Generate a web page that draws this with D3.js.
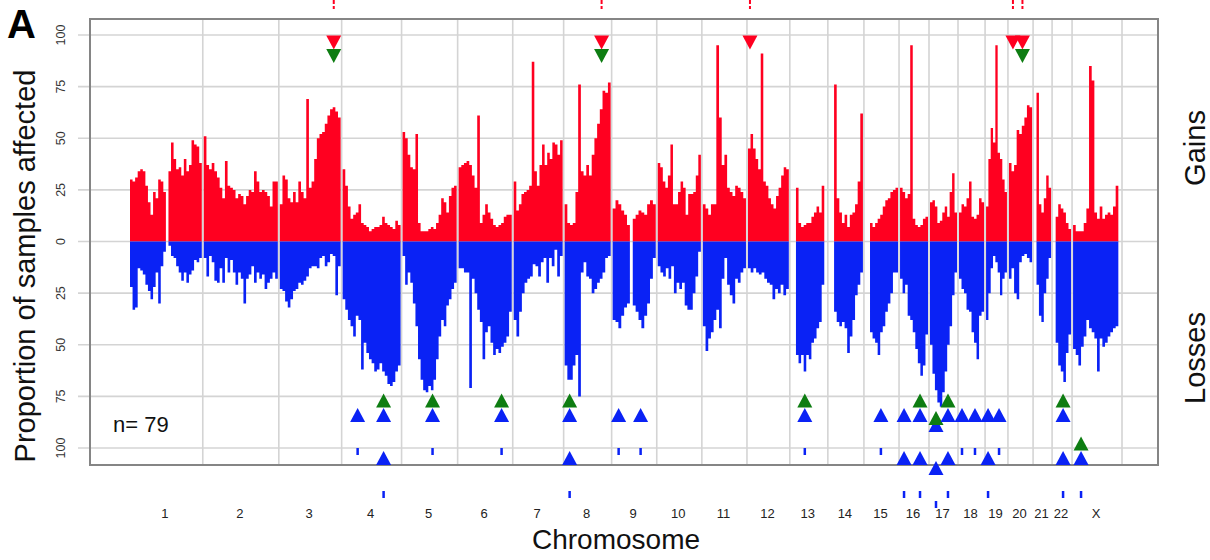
<!DOCTYPE html>
<html>
<head>
<meta charset="utf-8">
<script src="https://cdn.jsdelivr.net/npm/d3@7"></script>
<style>
  body { margin: 0; background: #fff; }
  svg { display: block; font-family: "Liberation Sans", Arial, sans-serif; }
</style>
</head>
<body>
<svg id="chart" width="1210" height="560"></svg>
<script>
// Chromosomes and their lengths (Mb) along the genome axis
const chromNames = ["1","2","3","4","5","6","7","8","9","10","11","12","13","14","15","16","17","18","19","20","21","22","X"];
const chromSizes = [229, 236, 195, 186, 174, 171, 158, 149, 140, 140, 140, 133, 118, 112, 109, 93, 90, 84, 71, 78, 59, 62, 155];

// Percentage of samples with a gain, binned evenly along each chromosome (null = no probes)
const gainPct = [
  [30, 29, 31, 34, 35, 34, 27, 19, 13, 24, 21, 30, 29, 24, null, 34, 48, 40, 35, 36, 32, 40, 34, 37, 49, 47, 46, 38],
  [51, 37, 35, 38, 34, 31, 26, 21, 39, 27, 26, 25, 21, 23, 22, 18, 22, 25, 24, 34, 29, 24, 25, 24, 22, 17, 29, 29],
  [18, 32, 30, 21, 19, 24, 19, 29, 24, 21, 69, 26, 29, 40, 50, 52, 53, 57, 61, 64, 65, 63, 60],
  [35, 27, 17, 11, 13, 14, 18, 9, 8, 7, 5, 6, 7, 7, 8, 12, 9, 8, 7, 6, 10, 8],
  [53, 50, 42, 36, 35, 52, 9, 5, 5, 5, 6, 7, 6, 9, 13, 21, 19, 14, 22, 26, 27],
  [36, 37, 38, 39, 37, 32, 26, 61, 9, 13, 18, 14, 11, 8, 7, 8, 9, 12, 13, 13],
  [29, 15, 18, 23, 24, 25, 27, 87, 34, 27, 37, 47, 37, 43, 40, 48, 47, 42, 49],
  [18, 9, 8, 9, 24, 76, 34, 32, 37, 32, 42, 50, 57, 64, 73, 72, 77],
  [16, 20, 18, 15, 13, 8, null, 11, 13, 15, 14, 13, 18, 20, 18],
  [38, 36, 29, 26, 32, 47, 18, 18, 24, 29, 26, 13, 23, 23, 24, 32, 42],
  [18, 16, 13, 18, 18, 95, 60, 37, 42, 26, 24, 22, 27, 26, 24, 21],
  [45, 52, 45, 40, 35, 91, 29, 27, 21, 18, 16, 22, 26, 32, 36, 35],
  [null, null, 26, 9, 7, 8, 9, 9, 12, 14, 17, 14, 27, null],
  [null, null, 76, 21, 14, 9, 13, 7, 13, 14, 18, 29, 62],
  [null, null, 9, 7, 9, 11, 13, 17, 20, 21, 24, 25, 26],
  [26, 24, 21, 23, 95, 11, 8, 7, 8, 11, 12],
  [19, 20, 17, 9, 10, 14, 17, 12, 24, 33, 14],
  [14, 18, 17, 21, 29, 12, 11, 13, 21, 19],
  [17, 40, 55, 48, 95, 43, 40, 30, 24],
  [38, 34, 37, 54, 52, 56, 60, 66, 65],
  [null, 72, 18, 14, 21, 32, 26],
  [null, 12, 18, 16, 14, 9, 6],
  [8, 5, 5, 5, 9, 16, 85, 78, 14, 11, 17, 11, 13, 14, 13, 17, 27, null]
];

// Percentage of samples with a loss, same binning scheme
const lossPct = [
  [22, 33, 32, 13, 14, 16, 21, 24, 28, 22, 15, 30, 12, 5, null, 2, 7, 8, 12, 15, 19, 15, 20, 16, 14, 9, 10, 8],
  [8, 17, 7, 10, 19, 20, 13, 20, 8, 15, 9, 15, 21, 15, 18, 30, 18, 16, 12, 20, 15, 18, 16, 23, 20, 18, 15, 18],
  [23, 24, 29, 32, 28, 24, 23, 20, 21, 19, 17, 13, 12, 12, 13, 8, 7, 12, 10, 6, 7, 26, 12],
  [28, 33, 38, 41, 46, 36, 38, 62, 49, 54, 57, 59, 63, 62, 59, 63, 65, 69, 70, 68, 63, 60],
  [7, 21, 15, 20, 30, 41, 57, 67, 72, 73, 70, 72, 67, 57, 46, 38, 41, 31, 28, 23, 20],
  [13, 13, 15, 15, 71, 18, 25, 33, 39, 57, 44, 41, 49, 55, 52, 54, 51, 49, 46, 34],
  [38, 46, 34, 25, 20, 18, 17, 11, 12, 17, 10, 8, 20, 8, 12, 4, 17, 7],
  [60, 67, 67, 60, 55, 75, 15, 10, 17, 18, 25, 23, 20, 18, 15, 8, 7],
  [38, 39, 42, 36, 32, 30, null, 31, 34, 38, 42, 36, 30, 18, 8],
  [12, 15, 17, 13, 18, 12, 25, 20, 23, 20, 31, 33, 33, 25, 17, 5],
  [41, 53, 47, 44, 38, 33, 42, 18, 8, 21, 26, 30, 18, 20, 15, 13],
  [13, 15, 13, 15, 16, 15, 18, 20, 21, 28, 23, 25, 21, 26, 23],
  [null, null, 55, 59, 55, 63, 55, 57, 49, 47, 42, 39, 21, null],
  [null, null, 34, 39, 41, 39, 42, 54, 46, 38, 26, 21, 15],
  [null, null, 44, 47, 49, 55, 44, 41, 34, 30, 25, 15, 15],
  [18, 25, 21, 36, 38, 44, 52, 59, 65, 60, 45],
  [50, 64, 72, 78, 80, 73, 63, 50, 41, 26, 15],
  [18, 23, 25, 33, 34, 44, 49, 57, 36, 34],
  [38, 25, 13, 7, 10, 15, 26, 18, 15],
  [18, 13, 25, 28, 10, 7, 6, 8, 10],
  [null, 21, 36, 39, 25, 18, 8],
  [null, 49, 60, 63, 68, 54, 45],
  [52, 55, 60, 51, 46, 38, 42, 44, 47, 63, 47, 51, 49, 46, 44, 42, 41, null]
];

// Y axis ticks (gains positive, losses negative; labels show magnitude)
const yTicks = [-100, -75, -50, -25, 0, 25, 50, 75, 100];

// Recurrent gain regions (position in Mb within chromosome); green = second test also significant
const gainCalls = [
  { chrom: "3",  pos: 170.5, green: true },
  { chrom: "8",  pos: 117.8, green: true },
  { chrom: "12", pos: 9.3,   green: false },
  { chrom: "20", pos: 15.5,  green: false },
  { chrom: "20", pos: 45.0,  green: true }
];

// Recurrent loss regions; tiers = significance rows reached
const lossCalls = [
  { chrom: "4",  pos: 49.6,  tiers: [1],    green: false },
  { chrom: "4",  pos: 130.2, tiers: [1, 2], green: true },
  { chrom: "5",  pos: 96.1,  tiers: [1],    green: true },
  { chrom: "6",  pos: 136.4, tiers: [1],    green: true },
  { chrom: "8",  pos: 18.6,  tiers: [1, 2], green: true },
  { chrom: "9",  pos: 21.7,  tiers: [1],    green: false },
  { chrom: "9",  pos: 89.9,  tiers: [1],    green: false },
  { chrom: "13", pos: 46.5,  tiers: [1],    green: true },
  { chrom: "15", pos: 52.7,  tiers: [1],    green: false },
  { chrom: "16", pos: 15.5,  tiers: [1, 2], green: false },
  { chrom: "16", pos: 65.1,  tiers: [1, 2], green: true },
  { chrom: "17", pos: 21.7,  tiers: [1, 2], green: true, stagger: true },
  { chrom: "17", pos: 58.9,  tiers: [1, 2], green: true },
  { chrom: "18", pos: 12.4,  tiers: [1],    green: false },
  { chrom: "18", pos: 52.7,  tiers: [1],    green: false },
  { chrom: "19", pos: 9.3,   tiers: [1, 2], green: false },
  { chrom: "19", pos: 43.4,  tiers: [1],    green: false },
  { chrom: "22", pos: 34.1,  tiers: [1, 2], green: true },
  { chrom: "X",  pos: 27.9,  tiers: [2],    green: true }
];

const sampleCount = 79;

// ---- layout & scales ----
const RED = "#ff0020", BLUE = "#0a22f5", GREEN = "#0e7d12", GRID = "#d4d4d4";
const frame = { left: 90, top: 19, right: 1158, bottom: 465 };
const bounds = [0, ...d3.cumsum(chromSizes)];
const total = bounds[bounds.length - 1];
const chromIndex = new Map(chromNames.map((c, i) => [c, i]));
const gpos = (c, p) => bounds[chromIndex.get(c)] + p;

const x = d3.scaleLinear().domain([0, total]).range([129, 1122]);
const y = d3.scaleLinear().domain([-100, 100]).range([448, 35]);

const svg = d3.select("#chart");

// grid
const grid = svg.append("g").attr("stroke", GRID).attr("stroke-width", 1.6);
grid.selectAll("line.h").data(yTicks).join("line")
  .attr("x1", 78).attr("x2", frame.right)
  .attr("y1", d => y(d)).attr("y2", d => y(d));
grid.selectAll("line.v").data(bounds.slice(1)).join("line")
  .attr("x1", d => x(d)).attr("x2", d => x(d))
  .attr("y1", frame.top).attr("y2", frame.bottom);

// profiles, one path per chromosome so boundaries stay open
function profilePoints(vals, i) {
  const local = d3.scaleLinear().domain([0, vals.length])
    .range([x(bounds[i]) + 1, x(bounds[i + 1]) - 1]);
  const pts = [];
  vals.forEach((v, j) => {
    if (v == null) { pts.push({ px: local(j), v: null }); return; }
    pts.push({ px: local(j), v }, { px: local(j + 1), v });
  });
  return pts;
}
const areaUp = d3.area().defined(d => d.v != null)
  .x(d => d.px).y0(y(0)).y1(d => y(d.v));
const areaDown = d3.area().defined(d => d.v != null)
  .x(d => d.px).y0(y(0)).y1(d => y(-d.v));

svg.append("g").selectAll("path").data(gainPct).join("path")
  .attr("fill", RED).attr("d", (vals, i) => areaUp(profilePoints(vals, i)));
svg.append("g").selectAll("path").data(lossPct).join("path")
  .attr("fill", BLUE).attr("d", (vals, i) => areaDown(profilePoints(vals, i)));

// frame
svg.append("rect")
  .attr("x", frame.left).attr("y", frame.top)
  .attr("width", frame.right - frame.left).attr("height", frame.bottom - frame.top)
  .attr("fill", "none").attr("stroke", "#858585").attr("stroke-width", 2);

// y tick labels (rotated)
svg.append("g").selectAll("text").data(yTicks).join("text")
  .attr("transform", d => `translate(65,${y(d)}) rotate(-90)`)
  .attr("text-anchor", "middle").attr("font-size", 12.5).attr("fill", "#333")
  .text(d => Math.abs(d));

// chromosome labels
svg.append("g").selectAll("text").data(chromNames).join("text")
  .attr("x", (d, i) => x((bounds[i] + bounds[i + 1]) / 2) - 1)
  .attr("y", 518).attr("text-anchor", "middle")
  .attr("font-size", 13).attr("fill", "#222").text(d => d);

// titles
svg.append("text").attr("x", 616).attr("y", 549).attr("text-anchor", "middle")
  .attr("font-size", 28).attr("fill", "#111").text("Chromosome");
svg.append("text").attr("transform", "translate(35,266) rotate(-90)")
  .attr("text-anchor", "middle").attr("font-size", 29).attr("fill", "#111")
  .text("Proportion of samples affected");
svg.append("text").attr("transform", "translate(1205,148) rotate(-90)")
  .attr("text-anchor", "middle").attr("font-size", 29).attr("fill", "#111").text("Gains");
svg.append("text").attr("transform", "translate(1205,358) rotate(-90)")
  .attr("text-anchor", "middle").attr("font-size", 29).attr("fill", "#111").text("Losses");
svg.append("text").attr("x", 7).attr("y", 38).attr("font-size", 40)
  .attr("font-weight", "bold").attr("fill", "#000").text("A");
svg.append("text").attr("x", 113).attr("y", 432).attr("font-size", 22)
  .attr("fill", "#111").text("n= " + sampleCount);

// markers
const TW = 15, TH = 14;
const triDown = (cx, cy) => `M${cx - TW / 2},${cy - TH / 2}L${cx + TW / 2},${cy - TH / 2}L${cx},${cy + TH / 2}Z`;
const triUp = (cx, cy) => `M${cx - TW / 2},${cy + TH / 2}L${cx + TW / 2},${cy + TH / 2}L${cx},${cy - TH / 2}Z`;

const mk = svg.append("g");
gainCalls.forEach(d => {
  const cx = x(gpos(d.chrom, d.pos));
  mk.append("line").attr("x1", cx).attr("x2", cx).attr("y1", 0).attr("y2", 9)
    .attr("stroke", RED).attr("stroke-width", 2).attr("stroke-dasharray", "4,2");
  mk.append("path").attr("d", triDown(cx, 42.5)).attr("fill", RED);
});
gainCalls.filter(d => d.green).forEach(d => {
  const cx = x(gpos(d.chrom, d.pos));
  mk.append("path").attr("d", triDown(cx, 56)).attr("fill", GREEN);
});

const tierY = { 1: 415, 2: 458 };
lossCalls.forEach(d => {
  const cx = x(gpos(d.chrom, d.pos));
  const shift = d.stagger ? 10 : 0;
  d.tiers.forEach(t => mk.append("path").attr("d", triUp(cx, tierY[t] + shift)).attr("fill", BLUE));
  const low = tierY[d3.max(d.tiers)] + shift;
  mk.append("rect").attr("x", cx - 1.25).attr("y", low + 33).attr("width", 2.5).attr("height", 7)
    .attr("fill", BLUE);
  if (d.green) {
    const top = tierY[d3.min(d.tiers)] + shift;
    mk.append("path").attr("d", triUp(cx, top - (d.stagger ? 7 : 14.5))).attr("fill", GREEN);
  }
});
</script>
</body>
</html>
